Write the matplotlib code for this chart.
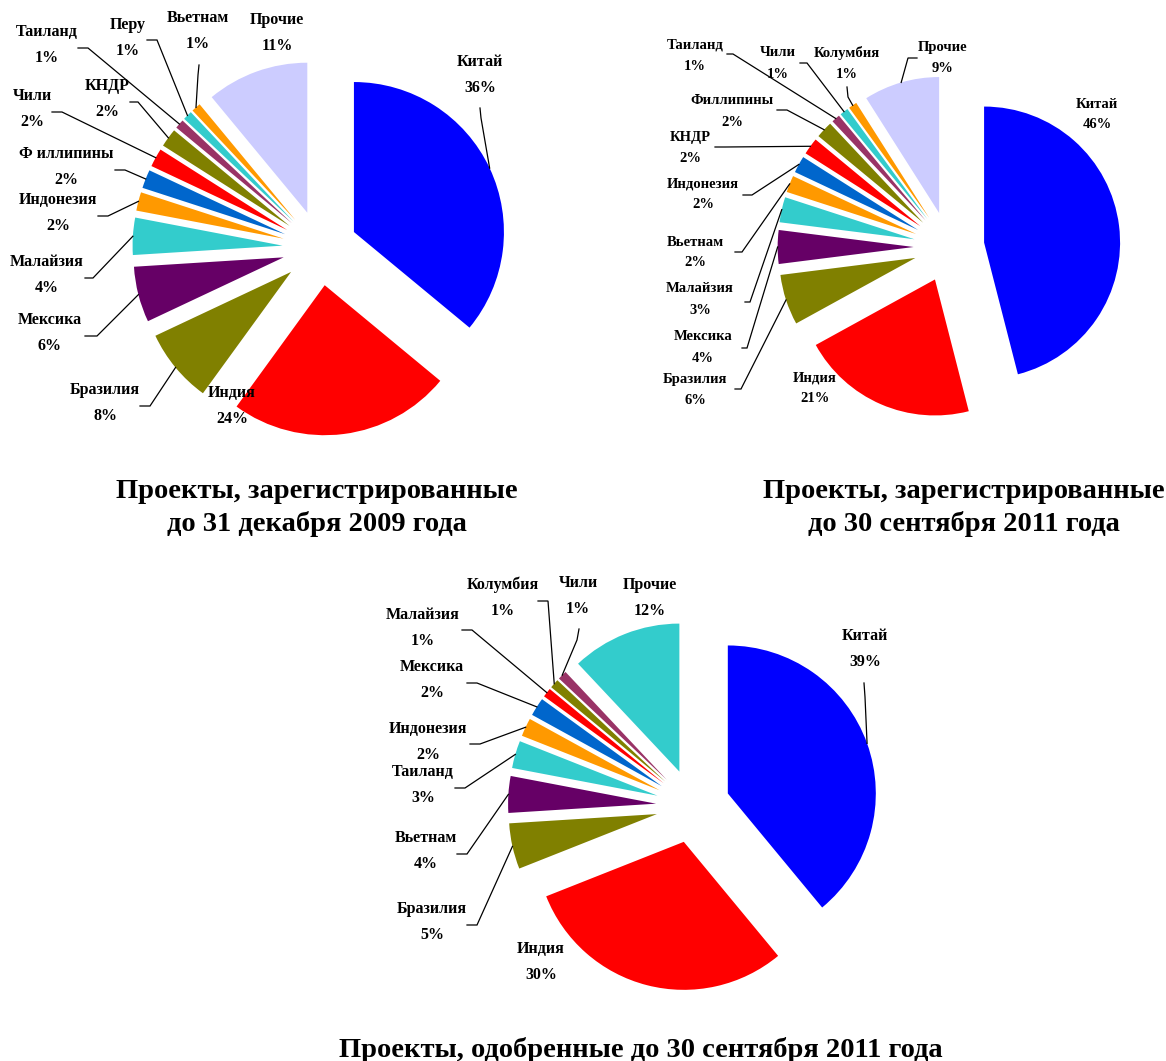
import matplotlib
matplotlib.use('Agg')
import matplotlib.pyplot as plt
import numpy as np

W, H = 1166, 1061

palette = ['#0000FF', '#FF0000', '#808000', '#660066', '#33CCCC', '#FF9900',
           '#0066CC', '#FF0000', '#808000', '#993366', '#33CCCC', '#FF9900', '#CCCCFF']

# ---------------- data ----------------
c1_labels = ['Китай', 'Индия', 'Бразилия', 'Мексика', 'Малайзия', 'Индонезия',
             'Ф иллипины', 'Чили', 'КНДР', 'Таиланд', 'Перу', 'Вьетнам', 'Прочие']
c1_values = [36, 24, 8, 6, 4, 2, 2, 2, 2, 1, 1, 1, 11]
c1_title = 'Проекты, зарегистрированные\nдо 31 декабря 2009 года'

c2_labels = ['Китай', 'Индия', 'Бразилия', 'Мексика', 'Малайзия', 'Вьетнам',
             'Индонезия', 'КНДР', 'Филлипины', 'Таиланд', 'Чили', 'Колумбия', 'Прочие']
c2_values = [46, 21, 6, 4, 3, 2, 2, 2, 2, 1, 1, 1, 9]
c2_title = 'Проекты, зарегистрированные\nдо 30 сентября 2011 года'

c3_labels = ['Китай', 'Индия', 'Бразилия', 'Вьетнам', 'Таиланд', 'Индонезия',
             'Мексика', 'Малайзия', 'Колумбия', 'Чили', 'Прочие']
c3_values = [39, 30, 5, 4, 3, 2, 2, 1, 1, 1, 12]
c3_title = 'Проекты, одобренные до 30 сентября 2011 года'

# ---------------- layout (pixel coords, y down) ----------------
charts = [
    dict(labels=c1_labels, values=c1_values, center=(320, 248), r=150, explode=0.25,
         fs=11.5, gap=26,
         name_xy=[(480, 62), (232, 393), (105, 390), (50, 320), (47, 262), (58, 200),
                  (66, 154), (32, 96), (107, 86), (47, 32), (128, 25), (198, 18), (277, 20)],
         leaders=[((480, 108), (481, 118)), None, ((140, 406), (150, 406)),
                  ((85, 336), (97, 336)), ((85, 278), (93, 278)), ((98, 216), (108, 216)),
                  ((115, 170), (125, 170)), ((52, 112), (62, 112)), ((130, 102), (138, 102)),
                  ((78, 48), (88, 48)), ((147, 40), (157, 40)), ((199, 65), (198, 75)), None],
         title=c1_title, title_xy=(317, 508)),
    dict(labels=c2_labels, values=c2_values, center=(949, 247), r=136, explode=0.26,
         fs=10.5, gap=21,
         name_xy=[(1097, 104), (815, 378), (695, 379), (703, 337), (700, 289), (695, 242),
                  (703, 184), (690, 137), (732, 101), (695, 45), (778, 53), (847, 53), (943, 47)],
         leaders=[None, None, ((735, 389), (741, 389)), ((742, 348), (747, 348)),
                  ((745, 302), (750, 302)), ((735, 252), (742, 252)), ((743, 195), (752, 195)),
                  ((715, 147), (725, 147)), ((777, 110), (787, 110)), ((727, 54), (733, 54)),
                  ((800, 63), (807, 63)), ((847, 87), (848, 97)), ((917, 58), (908, 58))],
         title=c2_title, title_xy=(964, 508)),
    dict(labels=c3_labels, values=c3_values, center=(693, 806), r=148, explode=0.25,
         fs=11.5, gap=26,
         name_xy=[(865, 636), (541, 949), (432, 909), (426, 838), (423, 772), (428, 729),
                  (432, 667), (423, 615), (503, 585), (578, 583), (650, 585)],
         leaders=[((864, 683), (865, 697)), None, ((467, 925), (477, 925)),
                  ((457, 854), (467, 854)), ((455, 788), (465, 788)), ((470, 744), (480, 744)),
                  ((467, 683), (477, 683)), ((462, 630), (472, 630)), ((538, 601), (548, 601)),
                  ((579, 629), (577, 640)), None],
         title=c3_title, title_xy=(641, 1050)),
]

FONT = ['Liberation Serif', 'DejaVu Serif']

fig = plt.figure(figsize=(W / 100, H / 100), dpi=100)
ax = fig.add_axes([0, 0, 1, 1])


def P(x, y):
    return x, H - y


for ch in charts:
    vals = ch['values']
    n = len(vals)
    cx, cy = P(*ch['center'])
    r = ch['r']
    # matplotlib's explode is an absolute offset, so scale by the radius
    wedges, _ = ax.pie(vals, colors=palette[:n], explode=[ch['explode'] * r] * n,
                       radius=r, center=(cx, cy), startangle=90,
                       counterclock=False, wedgeprops=dict(linewidth=0))
    total = sum(vals)
    for i, (lab, v) in enumerate(zip(ch['labels'], vals)):
        nx, ny = ch['name_xy'][i]
        pct = f'{round(100 * v / total)}%'
        ax.text(*P(nx, ny), lab, ha='center', va='center', fontsize=ch['fs'],
                fontweight='bold', family=FONT, color='black')
        ax.text(*P(nx, ny + ch['gap']), pct, ha='center', va='center',
                fontsize=ch['fs'], fontweight='bold', family=FONT, color='black')
        ld = ch['leaders'][i]
        if ld is not None:
            w = wedges[i]
            mid = np.deg2rad((w.theta1 + w.theta2) / 2)
            ex, ey = w.center[0] + w.r * np.cos(mid), w.center[1] + w.r * np.sin(mid)
            (sx, sy), (bx, by) = P(*ld[0]), P(*ld[1])
            ax.plot([sx, bx, ex], [sy, by, ey], color='black', lw=0.9,
                    solid_joinstyle='miter')
    tx, ty = P(*ch['title_xy'])
    ax.text(tx, ty, ch['title'], ha='center', va='center', fontsize=20.5,
            fontweight='bold', family=FONT, color='black', linespacing=1.35)

ax.set_xlim(0, W)
ax.set_ylim(0, H)
ax.set_aspect('equal')
ax.axis('off')

fig.savefig('out.png', dpi=100, facecolor='white')
